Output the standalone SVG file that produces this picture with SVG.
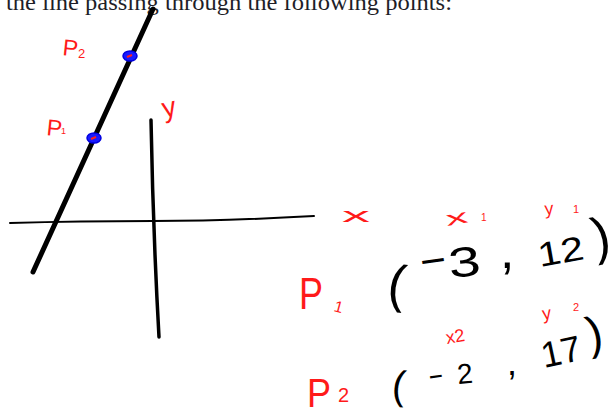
<svg xmlns="http://www.w3.org/2000/svg" width="616" height="412" viewBox="0 0 616 412">
<style>
.hdr{font-family:"Liberation Serif","DejaVu Serif",serif;fill:#1e1e28}
.red{font-family:"Liberation Sans","DejaVu Sans",sans-serif;fill:#ff1a1a}
.ink{font-family:"Liberation Sans","DejaVu Sans",sans-serif;fill:#000}
.pt{fill:#1a1aff;stroke:#0000e0;stroke-width:1.5}
</style>
<rect width="616" height="412" fill="#fff"/>
<text class="hdr" x="6" y="10" font-size="23" textLength="446" lengthAdjust="spacingAndGlyphs">the line passing through the following points:</text>
<g id="axes" fill="none" stroke="#000" stroke-linecap="round">
<path d="M10,223 Q80,221 153,221 T314,216" stroke-width="2"/>
<path d="M151,120 Q153,230 159,337" stroke-width="3.5"/>
</g>
<g id="line">
<line x1="33" y1="272" x2="153" y2="9" stroke="#000" stroke-width="5" stroke-linecap="round"/>
</g>
<g id="p1-point">
<ellipse class="pt" cx="94" cy="138" rx="7" ry="5"/>
<path d="M91,139 L96,137" stroke="#ff2020" stroke-width="2"/>
</g>
<g id="p2-point">
<ellipse class="pt" cx="130" cy="56" rx="7" ry="5"/>
<path d="M127,57 L132,55" stroke="#ff2020" stroke-width="2"/>
</g>
<g id="labels-graph">
<text class="red" x="62" y="55" font-size="23" transform="rotate(6 62 55)">P</text>
<text class="red" x="78" y="58" font-size="13">2</text>
<text class="red" x="46" y="135" font-size="23" transform="rotate(6 46 135)">P</text>
<text class="red" x="61" y="134" font-size="9">1</text>
<text class="red" x="164" y="118" font-size="28" transform="rotate(-12 164 118)">y</text>
<text class="red" x="342" y="222" font-size="20" textLength="28" lengthAdjust="spacingAndGlyphs">x</text>
</g>
<g id="p1-coords">
<text class="red" x="299" y="309" font-size="44" textLength="24" lengthAdjust="spacingAndGlyphs">P</text>
<text class="red" x="333" y="311" font-size="16" transform="rotate(15 333 311)">1</text>
<text class="red" x="447" y="226" font-size="20" textLength="22" lengthAdjust="spacingAndGlyphs" transform="rotate(-10 447 226)">x</text>
<text class="red" x="481" y="221" font-size="10">1</text>
<text class="red" x="545" y="215" font-size="18" transform="rotate(-5 545 215)">y</text>
<text class="red" x="573" y="213" font-size="11">1</text>
<text class="ink" x="386" y="300" font-size="52" transform="rotate(8 386 300)">(</text>
<text class="ink" x="422" y="276" font-size="40" textLength="26" lengthAdjust="spacingAndGlyphs" transform="rotate(-8 422 276)">−</text>
<text class="ink" x="450" y="278" font-size="42" textLength="32" lengthAdjust="spacingAndGlyphs" transform="rotate(-6 450 278)">3</text>
<text class="ink" x="500" y="268" font-size="52">,</text>
<text class="ink" x="540" y="267" font-size="34" textLength="46" lengthAdjust="spacingAndGlyphs" transform="rotate(-10 540 267)">12</text>
<text class="ink" x="596" y="255" font-size="52" transform="rotate(-12 596 255)">)</text>
</g>
<g id="p2-coords">
<text class="red" x="307" y="407" font-size="40" textLength="24" lengthAdjust="spacingAndGlyphs">P</text>
<text class="red" x="338" y="402" font-size="20">2</text>
<text class="red" x="447" y="344" font-size="18" transform="rotate(-10 447 344)">x2</text>
<text class="red" x="543" y="320" font-size="18" transform="rotate(-8 543 320)">y</text>
<text class="red" x="573" y="311" font-size="11">2</text>
<text class="ink" x="391" y="398" font-size="40" transform="rotate(6 391 398)">(</text>
<text class="ink" x="429" y="385" font-size="28" textLength="16" lengthAdjust="spacingAndGlyphs" transform="rotate(-8 429 385)">-</text>
<text class="ink" x="458" y="384" font-size="28" transform="rotate(-5 458 384)">2</text>
<text class="ink" x="507" y="375" font-size="36">,</text>
<text class="ink" x="544" y="368" font-size="36" transform="rotate(-12 544 368)">17</text>
<text class="ink" x="590" y="350" font-size="46" transform="rotate(-12 590 350)">)</text>
</g>
</svg>
